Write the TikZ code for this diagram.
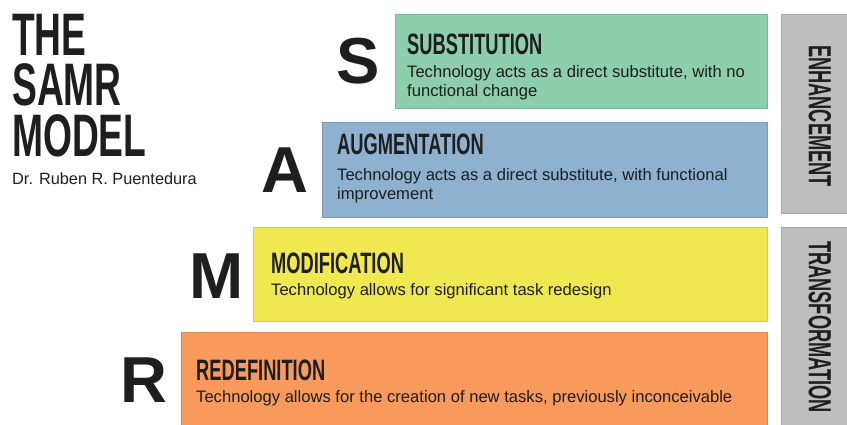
\documentclass[tikz,border=0pt]{standalone}
\usepackage{fontspec}
\setmainfont{Liberation Sans}
\newfontfamily\condfont[FakeStretch=0.62]{Liberation Sans Bold}
\newfontfamily\sidefont[FakeStretch=0.57]{Liberation Sans Bold}
\definecolor{ink}{HTML}{1E1E1E}
\definecolor{substgreen}{HTML}{8DCEAD}
\definecolor{augblue}{HTML}{8DB1CF}
\definecolor{modyellow}{HTML}{EFE850}
\definecolor{redeforange}{HTML}{F79A5C}
\definecolor{sidegray}{HTML}{BEBEBE}

\begin{document}
\begin{tikzpicture}[x=1pt,y=-1pt,
    stage/.style={draw=#1!88!black,fill=#1,line width=0.8pt,anchor=north west,inner sep=0pt},
    title/.style={font=\condfont\fontsize{60}{60}\selectfont,text=ink,inner sep=0pt,anchor=base west},
    head/.style={font=\condfont\fontsize{29.5}{29.5}\selectfont,text=ink,inner sep=0pt,anchor=base west},
    body/.style={font=\fontsize{16.6}{19.5}\selectfont,text=ink,inner sep=0pt,anchor=base west,align=left},
    letter/.style={font=\bfseries\fontsize{65}{65}\selectfont,text=ink,inner sep=0pt},
    side/.style={font=\sidefont\fontsize{32}{32}\selectfont,text=ink,inner sep=0pt,rotate=-90}]
\useasboundingbox (0,0) rectangle (847,425);

\node [title] (the)   at (12,56)  {THE};
\node [title] (samr)  at (12,106) {SAMR};
\node [title] (model) at (12,157) {MODEL};
\node [font=\fontsize{16.3}{16.3}\selectfont,text=ink,inner sep=0pt,anchor=base west]
    (author) at (12,185) {Dr. Ruben R. Puentedura};

\node [stage=substgreen,minimum width=372pt,minimum height=94pt]  (subst) at (395,14)  {};
\node [stage=augblue,minimum width=445pt,minimum height=95pt]     (aug)   at (322,122) {};
\node [stage=modyellow,minimum width=514pt,minimum height=94pt]   (mod)   at (253,227) {};
\node [stage=redeforange,minimum width=586pt,minimum height=93pt] (redef) at (181,332) {};

\node [letter] (sletter) at (358,61)  {S};
\node [letter] (aletter) at (285,170) {A};
\node [letter] (mletter) at (217,276) {M};
\node [letter] (rletter) at (144,380) {R};

\node [head] (substhead) at (407,55)  {SUBSTITUTION};
\node [body] (substtext) at (407,97)  {Technology acts as a direct substitute, with no\\functional change};
\node [head] (aughead)   at (337,155) {AUGMENTATION};
\node [body] (augtext)   at (337,200) {Technology acts as a direct substitute, with functional\\improvement};
\node [head] (modhead)   at (271,273) {MODIFICATION};
\node [body] (modtext)   at (271,295) {Technology allows for significant task redesign};
\node [head] (redefhead) at (196,380) {REDEFINITION};
\node [body] (redeftext) at (196,402) {Technology allows for the creation of new tasks, previously inconceivable};

\node [stage=sidegray,minimum width=66pt,minimum height=199pt] (enhbox)   at (781,14)  {};
\node [stage=sidegray,minimum width=66pt,minimum height=198pt] (transbox) at (781,227) {};
\node [side] (enh)   at (820,116) {ENHANCEMENT};
\node [side] (trans) at (820,327) {TRANSFORMATION};
\end{tikzpicture}
\end{document}
